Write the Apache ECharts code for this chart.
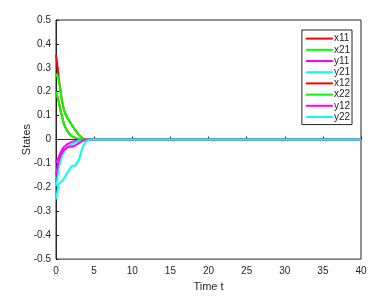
<!DOCTYPE html>
<html><head><meta charset="utf-8">
<script src="https://cdn.jsdelivr.net/npm/echarts@6/dist/echarts.min.js"></script>
<style>html,body{margin:0;padding:0;background:#fff}#c{width:383px;height:297px}</style>
</head><body><div id="c"></div>
<script>
var time = [0, 0.1, 0.35, 0.6, 0.8, 1.0, 1.2, 1.5, 1.8, 2.1, 2.5, 3.0, 3.5, 4.0, 4.5, 40];
var x11 = [0.355, 0.33, 0.26, 0.2, 0.16, 0.13, 0.11, 0.09, 0.075, 0.06, 0.04, 0.02, 0.005, 0, 0, 0];
var x21 = [0.26, 0.275, 0.25, 0.2, 0.16, 0.13, 0.11, 0.09, 0.075, 0.06, 0.04, 0.02, 0.005, 0, 0, 0];
var y11 = [-0.095, -0.09, -0.075, -0.055, -0.042, -0.032, -0.026, -0.019, -0.014, -0.01, -0.006, -0.003, -0.001, 0, 0, 0];
var y21 = [-0.195, -0.18, -0.12, -0.085, -0.068, -0.055, -0.045, -0.035, -0.026, -0.018, -0.012, -0.006, -0.002, 0, 0, 0];
var x12 = [0.2, 0.2, 0.16, 0.12, 0.095, 0.07, 0.052, 0.035, 0.022, 0.013, 0.008, 0.003, 0, 0, 0, 0];
var x22 = [0.2, 0.2, 0.16, 0.12, 0.095, 0.07, 0.052, 0.035, 0.022, 0.013, 0.008, 0.003, 0, 0, 0, 0];
var y12 = [-0.148, -0.13, -0.09, -0.066, -0.056, -0.045, -0.038, -0.032, -0.03, -0.03, -0.025, -0.015, -0.005, 0, 0, 0];
var y22 = [-0.25, -0.245, -0.185, -0.178, -0.174, -0.168, -0.155, -0.138, -0.122, -0.11, -0.11, -0.085, -0.03, -0.005, 0, 0];
var names = ['x11', 'x21', 'y11', 'y21', 'x12', 'x22', 'y12', 'y22'];
var values = [x11, x21, y11, y21, x12, x22, y12, y22];
var colors = ['#FF0000', '#00FF00', '#FF00FF', '#00FFFF', '#FF0000', '#00FF00', '#FF00FF', '#00FFFF'];

var chart = echarts.init(document.getElementById('c'));
var series = names.map(function (n, i) {
  return {
    name: n, type: 'line', showSymbol: false, symbol: 'none',
    data: time.map(function (t, k) { return [t, values[i][k]]; }),
    lineStyle: { color: colors[i], width: 2 }, itemStyle: { color: colors[i] },
    animation: false, z: 2 + i
  };
});
var txt = '#262626';
chart.setOption({
  animation: false,
  grid: { left: 56, right: 22, top: 20, bottom: 35, show: true, borderColor: '#262626', borderWidth: 1 },
  xAxis: {
    type: 'value', min: 0, max: 40, interval: 5,
    name: 'Time t', nameLocation: 'middle', nameGap: 21,
    nameTextStyle: { color: txt, fontSize: 11, fontFamily: 'Liberation Sans' },
    axisLine: { show: true, lineStyle: { color: '#262626' } },
    axisTick: { inside: true, length: 3, lineStyle: { color: '#262626' } },
    axisLabel: { color: txt, fontSize: 10, fontFamily: 'Liberation Sans', margin: 7 },
    splitLine: { show: false }
  },
  yAxis: {
    type: 'value', min: -0.5, max: 0.5, interval: 0.1,
    name: 'States', nameLocation: 'middle', nameGap: 24,
    nameMoveOverlap: false,
    nameTextStyle: { color: txt, fontSize: 11, fontFamily: 'Liberation Sans' },
    axisLine: { show: true, lineStyle: { color: '#262626' } },
    axisTick: { inside: true, length: 3, lineStyle: { color: '#262626' } },
    axisLabel: { color: txt, fontSize: 10, fontFamily: 'Liberation Sans', margin: 5,
      formatter: function (v) { return String(Math.round(v * 10) / 10); } },
    splitLine: { show: false }
  },
  legend: {
    orient: 'vertical', right: 31, top: 30, data: names,
    itemWidth: 27, itemHeight: 2, itemGap: 0, icon: 'rect',
    padding: [3, 2, 2, 4], borderColor: '#262626', borderWidth: 1, backgroundColor: '#fff',
    textStyle: { color: txt, fontSize: 10, fontFamily: 'Liberation Sans', lineHeight: 11.2, padding: [0, 0, 0, -4] }
  },
  series: series
});
</script></body></html>
